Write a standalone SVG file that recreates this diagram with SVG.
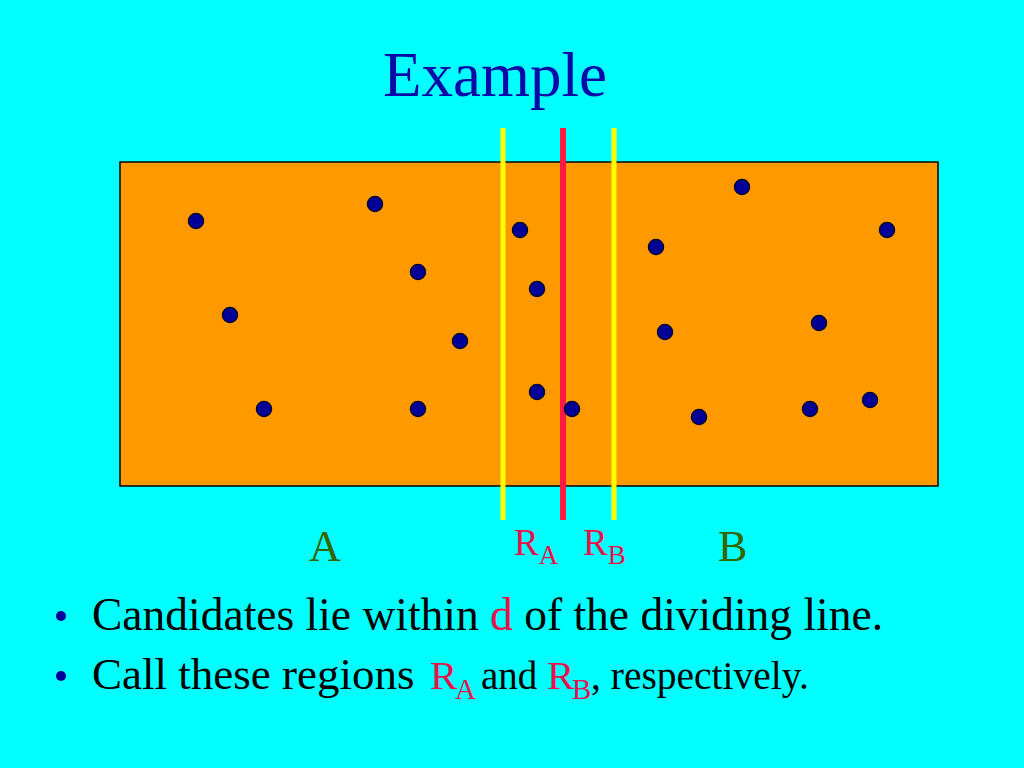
<svg xmlns="http://www.w3.org/2000/svg" width="1024" height="768" viewBox="0 0 1024 768">
<style>
.serif{font-family:"Liberation Serif","Times New Roman",serif}
.dot{fill:#000099;stroke:#000033;stroke-width:1.5}
.red{fill:#E8124A}
.green{fill:#336600}
.blk{fill:#000000}
</style>
<rect x="0" y="0" width="1024" height="768" fill="#00FFFF"/>
<g id="title"><text class="serif" x="495" y="96" font-size="63" fill="#0A0AA8" text-anchor="middle">Example</text></g>
<g id="box"><rect x="120" y="162" width="818" height="324" fill="#FF9900" stroke="#000000" stroke-width="1.5"/></g>
<g id="lines">
<line x1="503" y1="128" x2="503" y2="520" stroke="#FFFF00" stroke-width="5"/>
<line x1="614" y1="128" x2="614" y2="520" stroke="#FFFF00" stroke-width="5"/>
<line x1="563" y1="128" x2="563" y2="520" stroke="#FF1A44" stroke-width="6"/>
</g>
<g id="points">
<circle class="dot" cx="196" cy="221" r="7.5"/>
<circle class="dot" cx="375" cy="204" r="7.5"/>
<circle class="dot" cx="418" cy="272" r="7.5"/>
<circle class="dot" cx="230" cy="315" r="7.5"/>
<circle class="dot" cx="460" cy="341" r="7.5"/>
<circle class="dot" cx="264" cy="409" r="7.5"/>
<circle class="dot" cx="418" cy="409" r="7.5"/>
<circle class="dot" cx="520" cy="230" r="7.5"/>
<circle class="dot" cx="537" cy="289" r="7.5"/>
<circle class="dot" cx="537" cy="392" r="7.5"/>
<circle class="dot" cx="572" cy="409" r="7.5"/>
<circle class="dot" cx="656" cy="247" r="7.5"/>
<circle class="dot" cx="665" cy="332" r="7.5"/>
<circle class="dot" cx="699" cy="417" r="7.5"/>
<circle class="dot" cx="742" cy="187" r="7.5"/>
<circle class="dot" cx="887" cy="230" r="7.5"/>
<circle class="dot" cx="819" cy="323" r="7.5"/>
<circle class="dot" cx="810" cy="409" r="7.5"/>
<circle class="dot" cx="870" cy="400" r="7.5"/>
</g>
<g id="labels">
<text class="serif green" x="309" y="561" font-size="44">A</text>
<text class="serif green" x="718" y="561" font-size="44">B</text>
<text class="serif red" x="514" y="555" font-size="37">R<tspan font-size="27" dy="9">A</tspan></text>
<text class="serif red" x="583" y="555" font-size="37">R<tspan font-size="27" dy="9">B</tspan></text>
</g>
<g id="bullets">
<circle cx="61" cy="616" r="5" fill="#000099"/>
<circle cx="61" cy="676" r="5" fill="#000099"/>
<text class="serif blk" x="92" y="630" font-size="45.5">Candidates lie within <tspan class="red">d</tspan> of the dividing line.</text>
<text class="serif blk" x="92" y="689" font-size="45">Call these regions <tspan class="red" x="430" font-size="41">R</tspan><tspan class="red" x="455" font-size="29" dy="10">A</tspan><tspan x="481" font-size="39" dy="-10">and</tspan><tspan class="red" x="547" font-size="41">R</tspan><tspan class="red" x="572" font-size="29" dy="10">B</tspan><tspan x="591" font-size="39.5" dy="-10">, respectively.</tspan></text>
</g>
</svg>
